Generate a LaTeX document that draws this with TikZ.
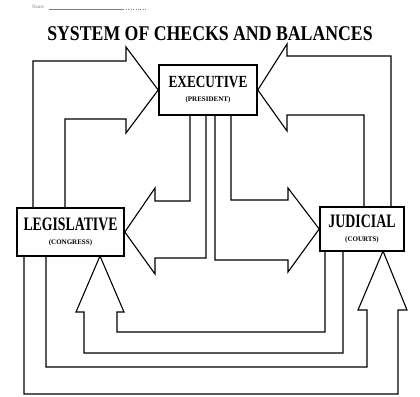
\documentclass[tikz,border=0pt]{standalone}
\usepackage{fontspec}
\setmainfont{Liberation Serif}
\begin{document}
\begin{tikzpicture}[x=1pt, y=-1pt,
        branch/.style={draw, line width=1.6pt, fill=white, inner sep=0pt, align=center},
        check/.style={line width=1.1pt, line join=miter}]
        %pixel grid, y runs down
        \useasboundingbox (0,0) rectangle (420,396);

        \node[font=\fontsize{5}{5}\selectfont, text=gray] (name) at (38,7) {Name};
        \draw[gray, thin] (name.east) ++(1,2) -- ++(75,0);
        \draw[gray, thin, dotted] (126,9) -- (146,9);

        \node (title) at (210,34) {\scalebox{0.845}[1]{\fontsize{21}{21}\selectfont\bfseries SYSTEM OF CHECKS AND BALANCES}};

        \node[branch, minimum width=98pt, minimum height=50pt] (exec) at (208,90)
                {\scalebox{0.78}[1]{\fontsize{17}{17}\selectfont\bfseries EXECUTIVE}\\[2pt]{\fontsize{7}{7}\selectfont\bfseries (PRESIDENT)}};
        \node[branch, minimum width=107pt, minimum height=48pt] (legis) at (70.5,232)
                {\scalebox{0.725}[1]{\fontsize{19}{19}\selectfont\bfseries LEGISLATIVE}\\[2pt]{\fontsize{7}{7}\selectfont\bfseries (CONGRESS)}};
        \node[branch, minimum width=84pt, minimum height=44pt] (judic) at (362,229)
                {\scalebox{0.73}[1]{\fontsize{19}{19}\selectfont\bfseries JUDICIAL}\\[2pt]{\fontsize{7}{7}\selectfont\bfseries (COURTS)}};

        % legislative checks executive
        \draw[check] (33,208) -- (33,61) -- (126,61) -- (126,47) -- (exec.west)
                -- (126,133) -- (126,119) -- (65,119) -- (65,208);
        % judicial checks executive
        \draw[check] (391,207) -- (391,56) -- (287,56) -- (287,44) -- (exec.east)
                -- (287,131) -- (287,115) -- (364,115) -- (364,207);
        % executive checks legislative
        \draw[check] (190,115) -- (190,201) -- (155,201) -- (155,188) -- (legis.east)
                -- (155,274) -- (155,258) -- (206,258) -- (206,115);
        % executive checks judicial
        \draw[check] (231,115) -- (231,200) -- (288,200) -- (288,188) -- (judic.west)
                -- (288,272) -- (288,260) -- (215,260) -- (215,115);
        % judicial checks legislative
        \draw[check] (325,251) -- (325,332) -- (117,332) -- (117,312) -- (124,312)
                -- (100,256) -- (76,312) -- (84,312) -- (84,353) -- (343,353) -- (343,251);
        % legislative checks judicial
        \draw[check] (46,256) -- (46,367) -- (367,367) -- (367,310) -- (358,310)
                -- (383,251) -- (407,310) -- (398,310) -- (398,394) -- (24,394) -- (24,256);
\end{tikzpicture}
\end{document}
